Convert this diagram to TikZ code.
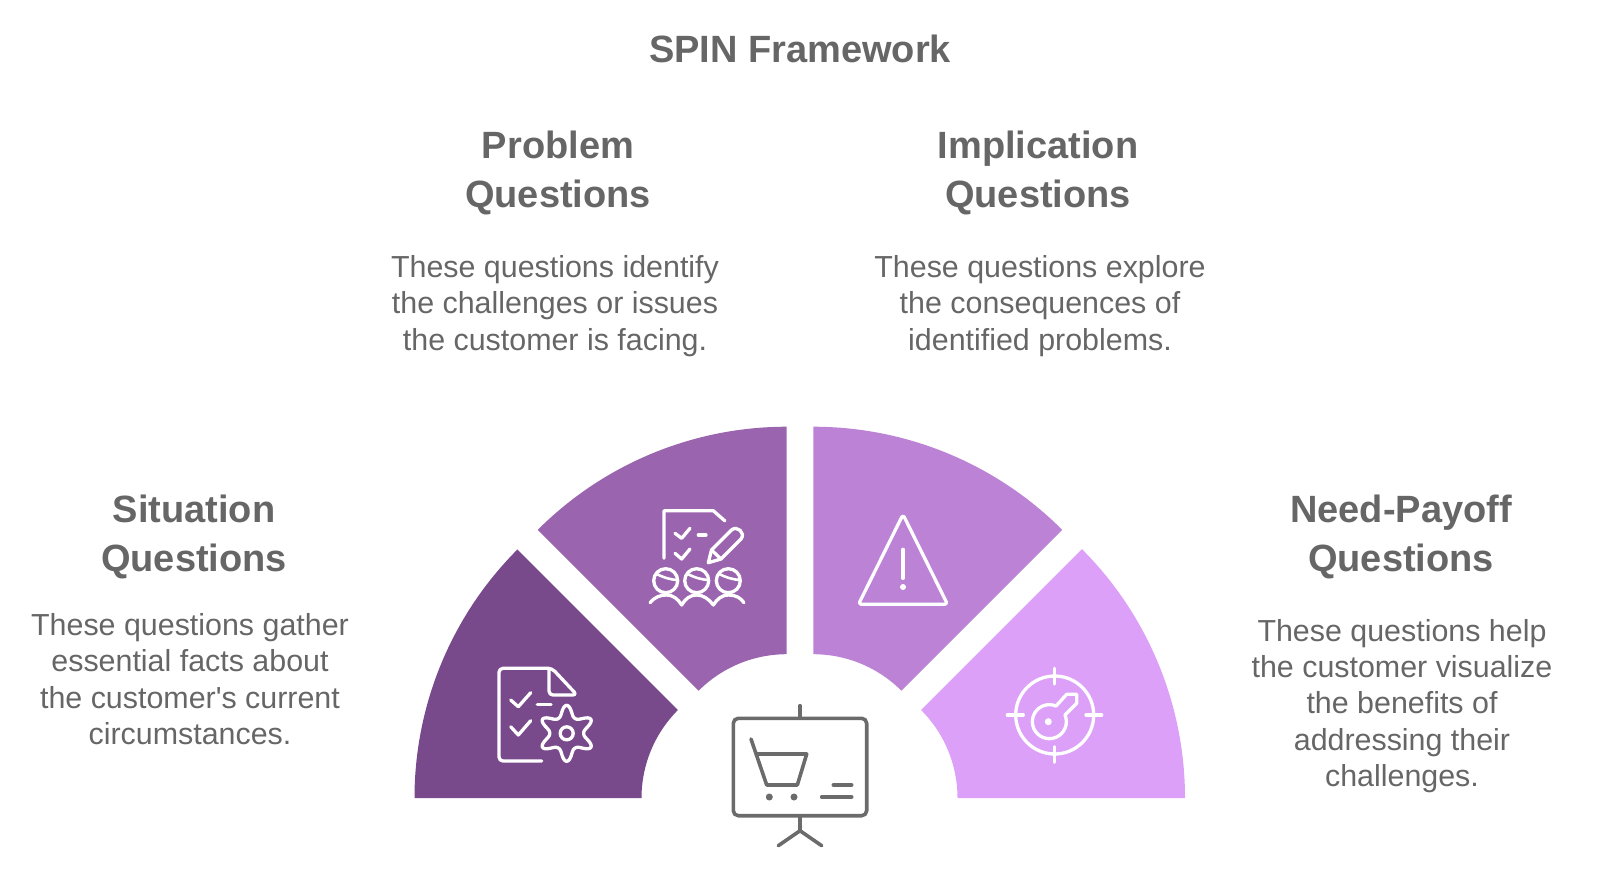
\documentclass[tikz,border=0pt]{standalone}
\usepackage{fontspec}
\setmainfont{Liberation Sans}
\usepackage{pgf, tikz}
\pgfdeclarelayer{edgelayer}
\pgfdeclarelayer{nodelayer}
\pgfsetlayers{edgelayer,nodelayer,main}
\definecolor{textgrey}{HTML}{666666}
\definecolor{icongrey}{HTML}{6B6B6B}
\definecolor{wedgea}{HTML}{784A8C}
\definecolor{wedgeb}{HTML}{9A64AE}
\definecolor{wedgec}{HTML}{BB82D6}
\definecolor{wedged}{HTML}{DCA0F9}
\tikzstyle{title}=[text=textgrey, align=center, font=\fontsize{38}{49}\selectfont\bfseries]
\tikzstyle{heading}=[text=textgrey, align=center, font=\fontsize{38}{49}\selectfont\bfseries]
\tikzstyle{body}=[text=textgrey, align=center, font=\fontsize{30.4}{36.4}\selectfont]
\tikzstyle{whiteicon}=[draw=white, line width=3.3pt, line cap=round, line join=round]
\tikzstyle{greyicon}=[draw=icongrey, line width=3.6pt, line cap=round, line join=round]
\begin{document}
\begin{tikzpicture}[x=1pt, y=1pt, yscale=-1]
			\useasboundingbox (0, 0) rectangle (1600, 876);
			\begin{pgfonlayer}{nodelayer}
			\node [style=title] (0) at (800, 49) {SPIN Framework};
			\node [style=heading] (1) at (558, 173) {Problem\\Questions};
			\node [style=body] (2) at (555, 306) {These questions identify\\the challenges or issues\\the customer is facing.};
			\node [style=heading] (3) at (1038, 173) {Implication\\Questions};
			\node [style=body] (4) at (1040, 306) {These questions explore\\the consequences of\\identified problems.};
			\node [style=heading] (5) at (194, 537) {Situation\\Questions};
			\node [style=body] (6) at (190, 679) {These questions gather\\essential facts about\\the customer\textquotesingle s current\\circumstances.};
			\node [style=heading] (7) at (1401, 537) {Need-Payoff\\Questions};
			\node [style=body] (8) at (1402, 706) {These questions help\\the customer visualize\\the benefits of\\addressing their\\challenges.};
			\end{pgfonlayer}
			\begin{pgfonlayer}{edgelayer}
			\fill [wedgea, shift={(766, 798)}] (180:351.5) arc [start angle=180, end angle=225, radius=351.5] -- (225:124.5) arc [start angle=225, end angle=180, radius=124.5] -- cycle;
			\fill [wedgeb, shift={(786.7, 778.7)}] (225:352) arc [start angle=225, end angle=270, radius=352] -- (270:124.5) arc [start angle=270, end angle=225, radius=124.5] -- cycle;
			\fill [wedgec, shift={(813.3, 778.7)}] (270:352) arc [start angle=270, end angle=315, radius=352] -- (315:124.5) arc [start angle=315, end angle=270, radius=124.5] -- cycle;
			\fill [wedged, shift={(833, 798)}] (315:352) arc [start angle=315, end angle=360, radius=352] -- (0:124.5) arc [start angle=360, end angle=315, radius=124.5] -- cycle;
			\end{pgfonlayer}
			% checklist and gear
			\draw [style=whiteicon, rounded corners=4] (541.7, 761) -- (499, 761) -- (499, 668.3) -- (552, 668.3) -- (577, 695) -- (549, 695) -- (549, 668.3);
			\draw [style=whiteicon] (510.7, 700) -- (518.3, 706.7) -- (530.7, 692.7);
			\draw [style=whiteicon] (510.7, 726.7) -- (518.3, 735) -- (530.7, 720.7);
			\draw [style=whiteicon] (537.3, 704.7) -- (551, 704.7);
			\draw [style=whiteicon, shift={(566.7, 733.3)}] plot [domain=0:360, samples=120, smooth] (\x:{21.5+5.5*cos(6*(\x-30))+cos(12*(\x-30))}) -- cycle;
			\draw [style=whiteicon] (566.7, 733.3) circle [radius=6.5];
			% notes and people
			\draw [style=whiteicon] (664, 558.3) -- (664, 510.7) -- (713.3, 510.7) -- (725, 521);
			\draw [style=whiteicon] (675, 533.3) -- (681.7, 538.3) -- (690, 528.3);
			\draw [style=whiteicon] (675, 553.3) -- (681.7, 559) -- (690, 549);
			\draw [style=whiteicon] (698.3, 535) -- (706, 535);
			\draw [style=whiteicon] (708.3, 562.7) -- (711.5, 550) -- (731.5, 530) .. controls (737, 525) and (746, 533) .. (741, 539) -- (721, 559) -- cycle;
			\draw [style=whiteicon] (711.5, 550) -- (721, 559);
			\foreach \px in {665.7, 696.7, 728.3} {
				\draw [style=whiteicon] (\px, 580.7) circle [radius=12];
				\draw [style=whiteicon, line width=2.6pt] (\px-9, 574) to [bend left=10] (\px+11, 580);
			}
			\draw [style=whiteicon] (650, 602.7) .. controls (655, 597) and (660, 595) .. (666.7, 595) .. controls (673, 595) and (678, 599) .. (681.7, 605) .. controls (685, 599) and (690, 595) .. (696.7, 595) .. controls (703, 595) and (709, 599) .. (713.3, 605) .. controls (717, 599) and (722, 595) .. (728.3, 595) .. controls (735, 595) and (740, 597) .. (744, 602.7);
			% warning triangle
			\draw [style=whiteicon, rounded corners=3] (903, 514.5) -- (947.5, 604.3) -- (858.5, 604.3) -- cycle;
			\draw [style=whiteicon] (903, 549.3) -- (903, 578.3);
			\fill [white] (903, 587) circle [radius=3];
			% target and key
			\draw [style=whiteicon] (1054.7, 715) circle [radius=39];
			\draw [style=whiteicon] (1054.7, 668.3) -- (1054.7, 684);
			\draw [style=whiteicon] (1054.7, 746.7) -- (1054.7, 762.3);
			\draw [style=whiteicon] (1007.3, 715) -- (1023.3, 715);
			\draw [style=whiteicon] (1086, 715) -- (1101.7, 715);
			\draw [style=whiteicon] (1065, 715) arc [start angle=-23, end angle=293, radius=17] -- (1066.7, 694.3) -- (1076.7, 694.3) -- (1076.7, 703.3) -- cycle;
			\fill [white] (1048.3, 721.7) circle [radius=3.5];
			% board and cart
			\draw [style=greyicon, rounded corners=5] (733.3, 718.3) rectangle (866.7, 815.7);
			\draw [style=greyicon] (800, 705.7) -- (800, 718.3);
			\draw [style=greyicon] (800, 815.7) -- (800, 830.7);
			\draw [style=greyicon] (778.3, 845.7) -- (800, 830.7) -- (821.7, 845.7);
			\draw [style=greyicon] (751, 739) -- (766.7, 785) -- (797.3, 785) -- (806.7, 754) -- (757.3, 754);
			\fill [icongrey] (769.3, 797) circle [radius=3.5];
			\fill [icongrey] (794, 797) circle [radius=3.5];
			\draw [style=greyicon] (833.3, 785) -- (851.7, 785);
			\draw [style=greyicon] (821.7, 797) -- (851.7, 797);
\end{tikzpicture}
\end{document}
